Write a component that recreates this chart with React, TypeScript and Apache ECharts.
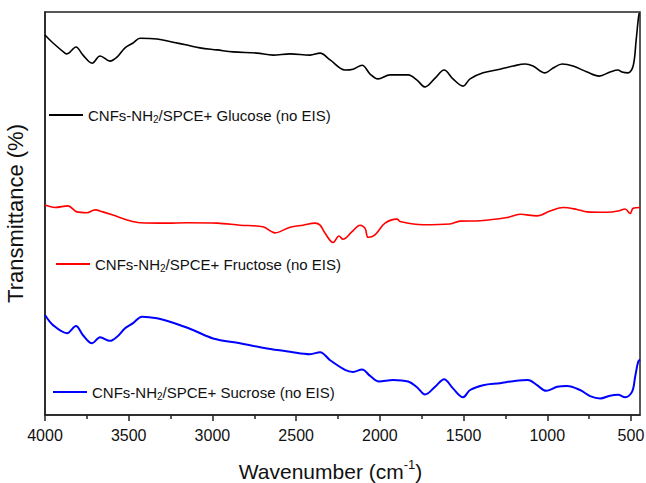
import React, { useEffect, useRef } from "react";
import * as echarts from "echarts";

const glucoseWave = [4000, 3952, 3881, 3869, 3815, 3773, 3719, 3671, 3612, 3570, 3522, 3474, 3432, 3331, 3235, 3152, 3074, 2972, 2877, 2734, 2638, 2536, 2417, 2357, 2297, 2208, 2160, 2106, 2058, 2011, 1939, 1831, 1778, 1730, 1670, 1616, 1563, 1503, 1461, 1383, 1282, 1204, 1132, 1085, 1013, 965, 911, 846, 762, 690, 625, 577, 553, 517, 487, 469, 457, 451];
const glucoseT = [94.3, 92.3, 89.8, 89.6, 91.3, 89.3, 87.3, 89.1, 87.8, 88.8, 91.1, 92.3, 93.5, 93.3, 92.5, 91.8, 91.1, 90.6, 90.1, 89.8, 89.3, 89.6, 89.3, 89.8, 88.1, 85.6, 85.8, 86.8, 84.6, 83.4, 84.4, 84.4, 83.1, 81.4, 83.6, 85.6, 83.4, 81.6, 83.4, 84.9, 85.8, 86.6, 87.1, 86.6, 84.9, 86.1, 87.1, 86.6, 85.1, 84.1, 85.1, 85.6, 85.1, 84.9, 86.6, 93.0, 98.0, 99.7];

const fructoseWave = [4000, 3940, 3863, 3809, 3749, 3701, 3654, 3594, 3510, 3432, 3271, 3152, 2972, 2835, 2698, 2626, 2536, 2459, 2387, 2357, 2327, 2279, 2244, 2220, 2166, 2118, 2088, 2070, 2029, 1969, 1897, 1879, 1742, 1581, 1521, 1401, 1240, 1162, 1061, 983, 905, 822, 762, 643, 577, 535, 505, 487, 446];
const fructoseT = [52.1, 51.5, 51.9, 50.4, 50.2, 50.9, 50.4, 49.6, 48.4, 47.7, 47.6, 47.7, 47.6, 47.1, 46.7, 45.2, 46.6, 47.1, 47.6, 47.1, 45.1, 42.8, 44.4, 43.6, 45.5, 47.1, 46.3, 44.1, 44.7, 47.6, 48.6, 48.0, 47.2, 47.4, 48.1, 48.2, 49.0, 49.8, 49.4, 50.6, 51.5, 51.0, 50.4, 50.3, 50.6, 51.1, 50.0, 51.3, 51.5];

const sucroseWave = [4000, 3952, 3869, 3815, 3773, 3719, 3671, 3612, 3570, 3522, 3474, 3420, 3331, 3235, 3116, 2996, 2835, 2674, 2536, 2417, 2357, 2297, 2208, 2160, 2106, 2058, 2005, 1921, 1831, 1778, 1730, 1670, 1616, 1563, 1503, 1461, 1383, 1282, 1204, 1115, 1061, 1007, 941, 882, 804, 744, 684, 625, 577, 535, 493, 475, 457, 446];
const sucroseT = [24.8, 22.3, 20.3, 22.1, 19.8, 17.8, 19.3, 18.4, 19.4, 21.5, 22.8, 24.4, 24.0, 22.9, 21.1, 19.0, 17.8, 16.5, 15.7, 15.1, 15.6, 13.6, 11.2, 10.7, 11.3, 9.7, 8.3, 8.7, 8.3, 6.9, 5.1, 7.0, 8.9, 6.6, 4.4, 6.2, 7.4, 7.9, 8.4, 8.7, 7.4, 6.0, 7.0, 7.2, 6.2, 4.7, 4.1, 4.8, 5.0, 4.4, 5.8, 9.5, 13.2, 13.8];

const majorTicks = [4000, 3500, 3000, 2500, 2000, 1500, 1000, 500];
const minorTicks = [3750, 3250, 2750, 2250, 1750, 1250, 750];

const seriesNames = [
  "CNFs-NH2/SPCE+ Glucose (no EIS)",
  "CNFs-NH2/SPCE+ Fructose (no EIS)",
  "CNFs-NH2/SPCE+ Sucrose (no EIS)",
];
const seriesColors = ["#000000", "#ff0000", "#0000ff"];

const FONT = "Liberation Sans, Arial, sans-serif";

function pairs(x: number[], y: number[]) {
  return x.map((w, i) => [w, y[i]]);
}

function legendFor(idx: number, left: number, top: number) {
  return {
    data: [seriesNames[idx]],
    left,
    top,
    padding: 0,
    icon: "rect",
    itemWidth: 34,
    itemHeight: 2,
    itemGap: 0,
    selectedMode: false,
    formatter: (name: string) => {
      const parts = name.split("NH2");
      return `{a|${parts[0]}NH}{s|2}{a|${parts[1]}}`;
    },
    textStyle: {
      rich: {
        a: { fontSize: 15, fontFamily: FONT, color: "#111", lineHeight: 18, verticalAlign: "middle" },
        s: { fontSize: 10, fontFamily: FONT, color: "#111", lineHeight: 10, verticalAlign: "bottom", padding: [8, 0, 0, 0] },
      },
    },
  };
}

export default function App() {
  const ref = useRef<HTMLDivElement>(null);
  useEffect(() => {
    if (!ref.current) return;
    const chart = echarts.init(ref.current, undefined, { renderer: "svg" });
    const xBase = {
      type: "value",
      inverse: true,
      min: 446,
      max: 4000,
      position: "bottom",
      splitLine: { show: false },
    };
    chart.setOption({
      animation: false,
      backgroundColor: "#ffffff",
      grid: {
        left: 45,
        right: 6,
        top: 12,
        bottom: 68,
        show: true,
        borderColor: "#222",
        borderWidth: 1.5,
        containLabel: false,
        outerBoundsMode: "none",
      },
      legend: [legendFor(0, 49, 106), legendFor(1, 56, 255), legendFor(2, 53, 383)],
      xAxis: [
        {
          ...xBase,
          name: "Wavenumber (cm{sup|-1})",
          nameLocation: "middle",
          nameGap: 43,
          nameTextStyle: {
            fontSize: 21,
            fontFamily: FONT,
            color: "#111",
            padding: [0, 24, 0, 0],
            rich: {
              sup: { fontSize: 13, fontFamily: FONT, color: "#111", verticalAlign: "top", lineHeight: 26 },
            },
          },
          axisLine: { show: true, lineStyle: { color: "#222", width: 1.5 } },
          axisTick: {
            show: true,
            inside: false,
            length: 6,
            customValues: majorTicks,
            lineStyle: { color: "#222", width: 1.5 },
          },
          axisLabel: {
            show: true,
            customValues: majorTicks,
            formatter: (v: number) => String(v),
            margin: 12,
            fontSize: 16,
            fontFamily: FONT,
            color: "#111",
          },
        },
        {
          ...xBase,
          axisLine: { show: false },
          axisTick: {
            show: true,
            inside: false,
            length: 4,
            customValues: minorTicks,
            lineStyle: { color: "#222", width: 1.5 },
          },
          axisLabel: { show: false },
        },
      ],
      yAxis: {
        type: "value",
        min: 0,
        max: 100,
        name: "Transmittance (%)",
        nameLocation: "middle",
        nameGap: 19,
        nameTextStyle: { fontSize: 22, fontFamily: FONT, color: "#111" },
        axisLine: { show: true, lineStyle: { color: "#222", width: 1.5 } },
        axisTick: { show: false },
        axisLabel: { show: false },
        splitLine: { show: false },
      },
      series: [
        { name: seriesNames[0], data: pairs(glucoseWave, glucoseT), color: seriesColors[0], lineWidth: 1.6 },
        { name: seriesNames[1], data: pairs(fructoseWave, fructoseT), color: seriesColors[1], lineWidth: 1.6 },
        { name: seriesNames[2], data: pairs(sucroseWave, sucroseT), color: seriesColors[2], lineWidth: 2 },
      ].map((s) => ({
        type: "line",
        name: s.name,
        data: s.data,
        xAxisIndex: 0,
        showSymbol: false,
        symbol: "none",
        smooth: 0.35,
        color: s.color,
        lineStyle: { color: s.color, width: s.lineWidth },
        itemStyle: { color: s.color },
      })),
    });
    return () => chart.dispose();
  }, []);
  return (
    <div
      ref={ref}
      style={{ position: "fixed", left: 0, top: 0, width: 646, height: 483, background: "#fff" }}
    />
  );
}
